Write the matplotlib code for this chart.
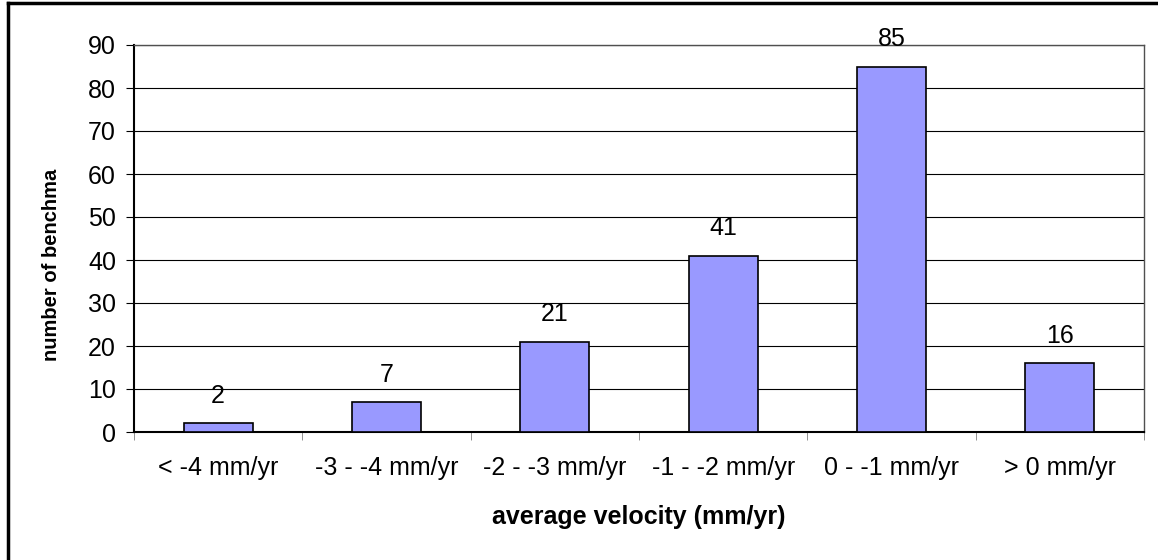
import matplotlib
matplotlib.use("Agg")
import matplotlib.pyplot as plt
from matplotlib.lines import Line2D

# ---------------- Data ---------------- #
categories = ["< -4 mm/yr", "-3 - -4 mm/yr", "-2 - -3 mm/yr",
              "-1 - -2 mm/yr", "0 - -1 mm/yr", "> 0 mm/yr"]
counts = [2, 7, 21, 41, 85, 16]
y_ticks = [0, 10, 20, 30, 40, 50, 60, 70, 80, 90]

plt.rcParams['font.family'] = ['Liberation Sans', 'DejaVu Sans']

W, H = 1158, 560
fig = plt.figure(figsize=(W / 100, H / 100), dpi=100)
ax = fig.add_axes([134 / W, 1 - 432 / H, (1144 - 134) / W, (432 - 45) / H])

x = list(range(len(categories)))
ax.bar(x, counts, width=0.41, color='#9999FF', edgecolor='black', linewidth=1.2, zorder=3)

# value labels above the bars
for xi, v in zip(x, counts):
    ax.annotate(str(v), (xi, v), xytext=(0, 11), textcoords='offset points',
                ha='center', va='bottom', fontsize=18)

ax.set_xlim(-0.5, len(categories) - 0.5)
ax.set_ylim(0, 90)
ax.set_yticks(y_ticks)
ax.tick_params(axis='y', labelsize=18, length=6, direction='out', pad=7)
ax.yaxis.grid(True, color='black', linewidth=0.8, zorder=0)

# x ticks: labels at centres, tick marks between categories
ax.set_xticks(x)
ax.set_xticklabels(categories, fontsize=18)
ax.tick_params(axis='x', length=0, pad=17)
ax.set_xticks([i - 0.5 for i in range(len(categories) + 1)], minor=True)
ax.tick_params(axis='x', which='minor', length=6, color='#808080')

for s in ['left', 'bottom']:
    ax.spines[s].set_color('black')
    ax.spines[s].set_linewidth(1.5)
for s in ['top', 'right']:
    ax.spines[s].set_color('#505050')
    ax.spines[s].set_linewidth(1.0)

# axis titles
fig.text(639 / W, 1 - 517 / H, "average velocity (mm/yr)", fontsize=18,
         fontweight='bold', ha='center', va='center')
fig.text(52 / W, 1 - 265 / H, "number of benchma", fontsize=14.5,
         fontweight='bold', rotation=90, ha='center', va='center')

# outer chart border (top and left only visible)
fig.add_artist(Line2D([8 / W, 1.0], [1 - 3 / H, 1 - 3 / H], color='black', linewidth=2.5))
fig.add_artist(Line2D([8 / W, 8 / W], [0.0, 1 - 3 / H], color='black', linewidth=2.5))

fig.savefig("out.png", dpi=100)
